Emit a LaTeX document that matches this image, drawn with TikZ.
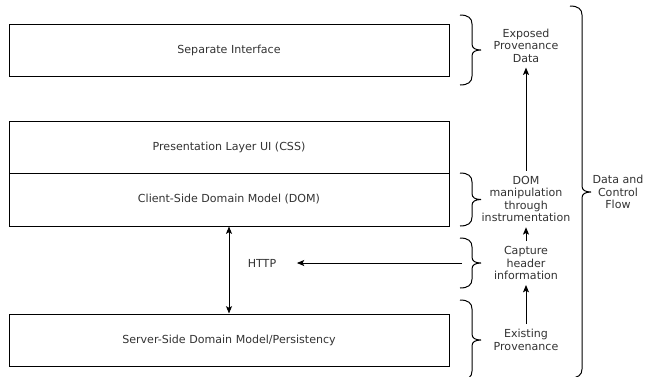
\documentclass[tikz,border=0pt]{standalone}
\usepackage{fontspec}
\setmainfont{DejaVu Sans}
\usetikzlibrary{arrows.meta}
\definecolor{txt}{HTML}{333333}
% curly bracket opening to the left: left x, top y, bottom y
\newcommand\curlybr[3]{%
  \draw[brc] ({#1},{#2}) .. controls ({#1+8},{#2}) and ({#1+12},{#2+3}) .. ({#1+12},{#2+9})
    -- ({#1+12},{(#2+#3)/2-6}) .. controls ({#1+12},{(#2+#3)/2-2}) and ({#1+15},{(#2+#3)/2}) .. ({#1+21},{(#2+#3)/2})
    .. controls ({#1+15},{(#2+#3)/2}) and ({#1+12},{(#2+#3)/2+2}) .. ({#1+12},{(#2+#3)/2+6})
    -- ({#1+12},{#3-9}) .. controls ({#1+12},{#3-3}) and ({#1+8},{#3}) .. ({#1},{#3});}
\begin{document}
\begin{tikzpicture}[x=0.75pt,y=-0.75pt,
  every node/.style={font=\fontsize{8.3}{9.4}\selectfont, text=txt},
  layer/.style={draw=black, line width=0.75pt, minimum width=330pt, minimum height=39pt, inner sep=0pt},
  note/.style={align=center, inner sep=3.75pt},
  brc/.style={draw=black, line width=0.75pt},
  arr/.style={draw=black, line width=0.75pt, -{Stealth[length=5.5pt,width=4.5pt,inset=1.2pt]}},
  dbl/.style={draw=black, line width=0.75pt, {Stealth[length=5.5pt,width=4.5pt,inset=1.2pt]}-{Stealth[length=5.5pt,width=4.5pt,inset=1.2pt]}}]
\useasboundingbox (0,0) rectangle (652,376);
\fill[white] (0,0) rectangle (652,376);

% stacked layers
\node[layer] (sep) at (229,50) {Separate Interface};
\node[layer] (pres) at (229,147) {Presentation Layer UI (CSS)};
\node[layer, minimum height=39.75pt] (client) at (229,199.5) {Client-Side Domain Model (DOM)};
\node[layer] (server) at (229,340) {Server-Side Domain Model/Persistency};

% HTTP between client and server
\node (http) at (262,263) {HTTP};
\draw[dbl] (client.south) -- (server.north);

% flow annotations
\node[note] (exposed) at (526,45.5) {Exposed\\Provenance\\Data};
\node[note] (dom) at (526,199) {DOM\\manipulation\\through\\instrumentation};
\node[note] (capture) at (526,263) {Capture\\header\\information};
\node[note] (exist) at (526,340) {Existing\\Provenance};
\node[align=center] (flow) at (618,192) {Data and\\Control\\Flow};

% braces
\curlybr{460}{15}{85}
\curlybr{460}{173}{226}
\curlybr{460}{238}{288}
\curlybr{460}{300}{380}
\curlybr{570}{6}{378}

% connectors
\coordinate (capl) at (462,263);
\draw[arr] (exist.north) -- (capture.south);
\draw[arr] (capture.north) -- (dom.south);
\draw[arr] (dom.north) -- (exposed.south);
\draw[arr, shorten >=12pt] (capl) -- (http.east);
\end{tikzpicture}
\end{document}
